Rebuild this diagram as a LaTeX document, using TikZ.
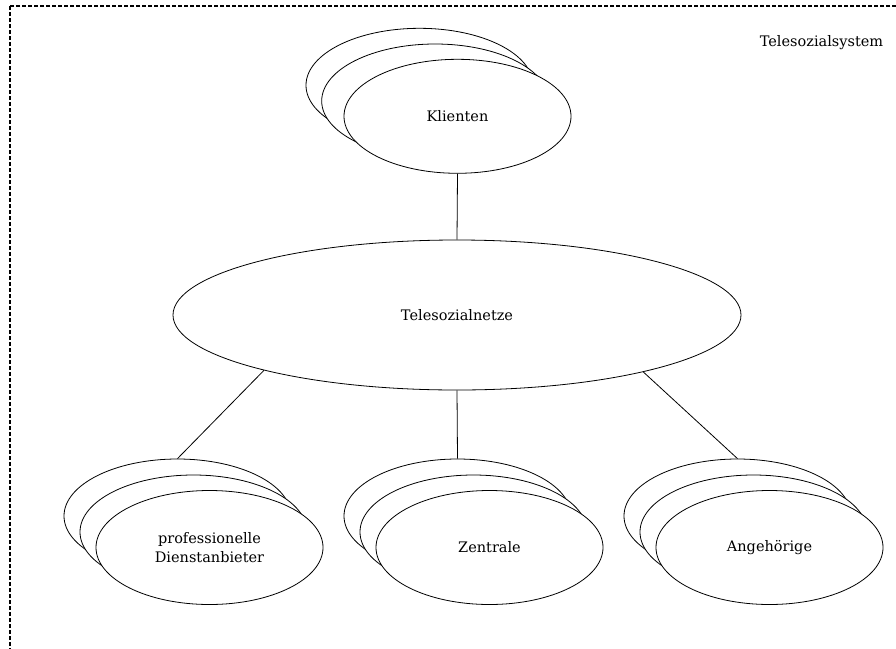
\documentclass[tikz,border=0pt]{standalone}
\usepackage{fontspec}
\setmainfont{DejaVu Serif}
\usetikzlibrary{shapes.geometric}
\tikzset{
  bubble/.style={ellipse, draw, fill=white, line width=0.8pt,
    minimum width=227pt, minimum height=114pt, inner sep=0pt,
    align=center, font=\fontsize{14.5}{19}\selectfont},
  hub/.style={ellipse, draw, fill=white, line width=0.8pt,
    minimum width=568pt, minimum height=150pt, inner sep=0pt,
    font=\fontsize{14.5}{19}\selectfont},
  link/.style={draw, line width=0.8pt},
  frame/.style={draw, line width=1.3pt, dash pattern=on 4pt off 2pt}
}
\begin{document}
\begin{tikzpicture}[x=1pt, y=-1pt]
\useasboundingbox (0,0) rectangle (896,648);
% dashed system boundary, running past the right and bottom edges
\draw[frame] (10,6) rectangle (910,662);
\node[font=\fontsize{14.5}{19}\selectfont] (sys) at (821.5,43) {Telesozialsystem};

% Klienten (stack of three)
\node[bubble] (k3) at (419.5,85.3) {};
\node[bubble] (k2) at (435.2,101) {};
\node[bubble] (k1) at (457.5,116.3) {Klienten};

% central network
\node[hub] (net) at (457,315) {Telesozialnetze};

% professionelle Dienstanbieter (stack)
\node[bubble] (d3) at (177.5,516) {};
\node[bubble] (d2) at (193.5,532) {};
\node[bubble] (d1) at (209.5,547.5) {professionelle\\Dienstanbieter};

% Zentrale (stack)
\node[bubble] (z3) at (457.5,516) {};
\node[bubble] (z2) at (473.5,532) {};
\node[bubble] (z1) at (489.5,547.5) {Zentrale};

% Angehörige (stack)
\node[bubble] (a3) at (737.5,516) {};
\node[bubble] (a2) at (753.5,532) {};
\node[bubble] (a1) at (769.5,547.5) {Angehörige};

% connectors
\draw[link] (k1.south) -- (net.north);
\draw[link] (net.196.5) -- (d3.north);
\draw[link] (net.south) -- (z3.north);
\draw[link] (net.343.5) -- (a3.north);
\end{tikzpicture}
\end{document}
